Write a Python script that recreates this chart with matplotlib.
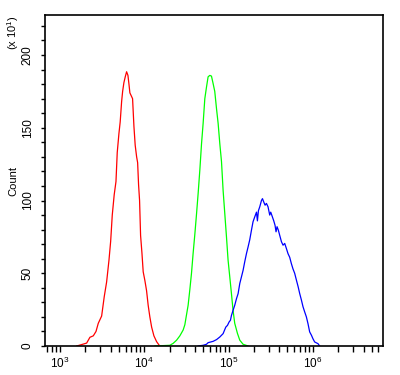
import numpy as np
import matplotlib
matplotlib.use("Agg")
import matplotlib.pyplot as plt
from matplotlib.ticker import MultipleLocator, LogLocator

plt.rcParams['font.family'] = ['Liberation Sans', 'DejaVu Sans']
plt.rcParams['mathtext.default'] = 'regular'

# log10 of intensity, count (x10)
red_exp = [3.198, 3.257, 3.316, 3.355, 3.395, 3.427, 3.454, 3.494, 3.525, 3.553,
           3.581, 3.601, 3.620, 3.643, 3.664, 3.679, 3.699, 3.714, 3.731, 3.743,
           3.758, 3.774, 3.790, 3.806, 3.818, 3.829, 3.845, 3.861, 3.877, 3.892,
           3.909, 3.921, 3.932, 3.944, 3.956, 3.972, 3.987, 4.007, 4.027, 4.046,
           4.066, 4.087, 4.114, 4.146, 4.177]
red_cnt = [0, 1, 2, 6, 7, 10, 15.6, 20.6, 34, 44,
           59, 72, 90, 104, 113, 133, 146, 154, 168, 175,
           181, 185, 188.5, 186, 180, 174, 172, 170, 151, 138,
           130, 126, 111, 100, 76, 64, 51, 45, 38, 28,
           20, 13, 7, 3, 0.5]

green_exp = [4.126, 4.303, 4.342, 4.383, 4.422, 4.461, 4.481, 4.501, 4.520, 4.540,
             4.560, 4.579, 4.600, 4.620, 4.639, 4.659, 4.679, 4.698, 4.718, 4.738,
             4.757, 4.777, 4.797, 4.816, 4.836, 4.857, 4.876, 4.896, 4.916, 4.935,
             4.955, 4.975, 4.994, 5.014, 5.034, 5.053, 5.073, 5.105, 5.133, 5.172,
             5.231]
green_cnt = [0, 0.5, 1.8, 4, 7, 11, 14.6, 21.5, 28, 38.6,
             50, 63.5, 77, 91, 105, 121, 139, 153, 170, 178,
             185, 186, 185.5, 180.5, 175, 163, 153, 139, 126.7, 107,
             91, 75, 59, 47.6, 36, 24.5, 15.6, 8.7, 4, 1.2,
             0]

blue_exp = [4.639, 4.698, 4.738, 4.757, 4.816, 4.857, 4.896, 4.935, 4.967, 4.987,
            5.006, 5.022, 5.034, 5.053, 5.073, 5.094, 5.113, 5.133, 5.153, 5.172,
            5.192, 5.212, 5.231, 5.251, 5.271, 5.290, 5.310, 5.331, 5.342, 5.354,
            5.370, 5.390, 5.402, 5.417, 5.433, 5.449, 5.468, 5.488, 5.500, 5.520,
            5.536, 5.551, 5.563, 5.575, 5.591, 5.607, 5.627, 5.646, 5.666, 5.686,
            5.705, 5.725, 5.745, 5.764, 5.784, 5.806, 5.825, 5.844, 5.864, 5.883,
            5.903, 5.923, 5.942, 5.962, 5.983, 6.001, 6.021, 6.061, 6.081]
blue_cnt = [0, 0.5, 1.2, 2.3, 3.2, 4.4, 6.2, 8.5, 13, 14.2,
            16.5, 17.7, 21, 24.5, 28, 32.6, 36, 43, 47.6, 52,
            58, 63.5, 68, 73, 79.5, 85.4, 88.7, 92, 86, 93,
            95.7, 100, 101.3, 99, 96.8, 98, 95.7, 90, 92, 88.7,
            86, 83, 78.5, 82, 79.5, 76, 71.7, 69.3, 70.5, 67,
            63.5, 61, 56.6, 53, 50, 45, 40.8, 36, 31.6, 27,
            23.4, 20, 15.4, 9.7, 7.4, 5, 2.8, 1.6, 0]

fig = plt.figure(figsize=(4, 3.75), dpi=100)
ax = fig.add_axes([0.1125, 0.0773, 0.845, 0.8827])

for e, c, col in [(red_exp, red_cnt, '#ff0000'),
                  (green_exp, green_cnt, '#00ff00'),
                  (blue_exp, blue_cnt, '#0000ff')]:
    ax.plot(10 ** np.array(e), c, color=col, lw=0.9)

ax.set_xscale('log')
ax.set_xlim(10 ** 2.822, 10 ** 6.832)
ax.set_ylim(0, 227.5)

ax.yaxis.set_major_locator(MultipleLocator(50))
ax.yaxis.set_minor_locator(MultipleLocator(10))
ax.xaxis.set_major_locator(LogLocator(base=10, numticks=10))
ax.xaxis.set_minor_locator(LogLocator(base=10, subs=np.arange(2, 10), numticks=20))

ax.tick_params(which='both', direction='out', width=1, color='black',
               labelsize=8.5)
ax.tick_params(axis='y', which='both', length=3, pad=5)
ax.tick_params(axis='x', which='both', length=4, pad=3)
for lab in ax.get_yticklabels():
    lab.set_rotation(90)
    lab.set_va('center')

for s in ax.spines.values():
    s.set_linewidth(1.2)

ax.set_ylabel('Count', fontsize=8)
ax.yaxis.set_label_coords(-0.078, 0.5)
fig.text(0.032, 0.912, r'(x 10$^{1}$)', rotation=90, fontsize=8,
         ha='center', va='center')

fig.savefig('out.png', dpi=100)
